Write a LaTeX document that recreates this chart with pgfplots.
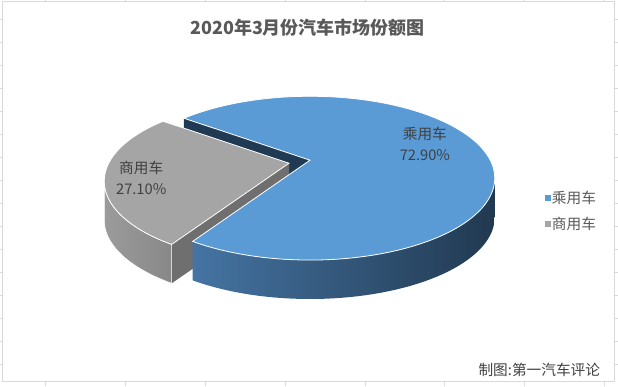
\documentclass[border=0pt]{standalone}
\usepackage{pgfplots}
\pgfplotsset{compat=1.18}
\usepackage{pgfplotstable}
\usepackage{fontspec}
\setmainfont{Noto Sans CJK SC}

\definecolor{bluetop}{HTML}{5B9BD5}
\definecolor{graytop}{HTML}{A5A5A5}
\definecolor{navyface}{HTML}{203A54}
\definecolor{bsideL}{HTML}{4574A3}
\definecolor{bsideR}{HTML}{213950}
\definecolor{gsideL}{HTML}{9B9B9B}
\definecolor{gsideR}{HTML}{888888}
\definecolor{grayface}{HTML}{6F6F6F}
\definecolor{titlec}{HTML}{595959}
\definecolor{lblc}{HTML}{404040}
\definecolor{gridc}{HTML}{D9D9D9}

% market share data (percent)
\pgfplotstableread{
slice value
0 72.9
1 27.1
}\sharetable
\pgfplotstablegetelem{0}{value}\of\sharetable\edef\vA{\pgfplotsretval}
\pgfplotstablegetelem{1}{value}\of\sharetable\edef\vB{\pgfplotsretval}

% geometry (1 unit = 1 px)
\def\ra{185}\def\rb{82}\def\hh{39}
\def\bx{310}\def\by{226}\def\bex{310}\def\bey{208}
\def\gx{289}\def\gy{223}\def\gex{289}\def\gey{205}
\pgfmathsetmacro\start{133}
\pgfmathsetmacro\bend{\start-3.6*\vA}
\pgfmathsetmacro\gend{\start+3.6*\vB}

\newcommand\sideface[5]{%
\addplot[forget plot,#5,domain=0:2.1,samples=106,variable=\s]
 ({#1+\ra*cos((#3)+((#4)-(#3))*(min(\s,1)-max(0,\s-1.1)))},
  {#2+\rb*sin((#3)+((#4)-(#3))*(min(\s,1)-max(0,\s-1.1)))-\hh*min(1,max(0,(\s-1)*10))}) -- cycle;
}
\newcommand\radface[6]{% apex x,y ; ellipse center x,y ; angle ; colour
\pgfmathsetmacro\rx{#3+\ra*cos(#5)}%
\pgfmathsetmacro\ry{#4+\rb*sin(#5)}%
\pgfmathsetmacro\ryb{\ry-\hh}%
\pgfmathsetmacro\ayb{#2-\hh}%
\edef\temp{\noexpand\addplot[forget plot,fill=#6,draw=none] coordinates {(#1,#2) (\rx,\ry) (\rx,\ryb) (#1,\ayb)} -- cycle;}%
\temp
}

\begin{document}
\begin{tikzpicture}
\begin{axis}[
  width=618pt,height=386pt,scale only axis,
  xmin=0,xmax=618,ymin=0,ymax=386,
  axis lines=none,clip=false,
  legend style={at={(axis cs:542,198)},anchor=north west,draw=none,fill=none,
    font=\fontsize{14.7}{16}\selectfont,text=titlec,row sep=10pt,
    nodes={inner sep=1pt}},
  legend cell align=left,
  legend image code/.code={\fill[#1] (0pt,-3pt) rectangle (6pt,3pt);},
]
\path (axis cs:0,0) rectangle (axis cs:618,386);
% chart border and spreadsheet grid stubs
\draw[gridc,line width=1pt] (axis cs:2,4) rectangle (axis cs:615,385);
\pgfplotsinvokeforeach{45,125,205,285,365,445,525,605}{
  \draw[gridc,line width=0.8pt] (axis cs:#1,385) -- (axis cs:#1,386);
  \draw[gridc,line width=0.8pt] (axis cs:#1,0) -- (axis cs:#1,4);}
\pgfplotsinvokeforeach{367,344,321,298,275,252,229,206,183,160,137,114,91,68,45,22}{
  \draw[gridc,line width=0.8pt] (axis cs:0,#1) -- (axis cs:2,#1);
  \draw[gridc,line width=0.8pt] (axis cs:615,#1) -- (axis cs:618,#1);}

% blue radial face (visible edge)
\radface{\bx}{\by}{\bex}{\bey}{\start}{navyface}
% gray radial face
\radface{\gx}{\gy}{\gex}{\gey}{\gend}{grayface}
% gray outer side
\sideface{\gex}{\gey}{180}{\gend}{left color=gsideL,right color=gsideR,draw=white,line width=0.6pt}
% blue outer side
\sideface{\bex}{\bey}{\bend}{0}{left color=bsideL,right color=bsideR,draw=none}
% gray top
\addplot[forget plot,fill=graytop,draw=white,line width=0.8pt,domain=\start:\gend,samples=80,variable=\t]
  ({\gex+\ra*cos(\t)},{\gey+\rb*sin(\t)}) -- (axis cs:\gx,\gy) -- cycle;
% blue top
\addplot[forget plot,fill=bluetop,draw=white,line width=0.8pt,domain=\bend:\start,samples=160,variable=\t]
  ({\bex+\ra*cos(\t)},{\bey+\rb*sin(\t)}) -- (axis cs:\bx,\by) -- cycle;

% data labels
\node[font=\fontsize{14.7}{21}\selectfont,text=lblc,align=center] at (axis cs:425,242.5) {乘用车\\72.90\%};
\node[font=\fontsize{14.7}{21}\selectfont,text=lblc,align=center] at (axis cs:141,208.5) {商用车\\27.10\%};

% title and footer
\node[font=\fontsize{18}{20}\selectfont\bfseries,text=titlec] at (axis cs:307.5,359) {2020年3月份汽车市场份额图};
\node[font=\fontsize{14.7}{16}\selectfont,text=lblc,anchor=east] at (axis cs:604,16) {制图:第一汽车评论};

\addlegendimage{fill=bluetop,draw=none}
\addlegendentry{乘用车}
\addlegendimage{fill=graytop,draw=none}
\addlegendentry{商用车}
\end{axis}
\end{tikzpicture}
\end{document}
